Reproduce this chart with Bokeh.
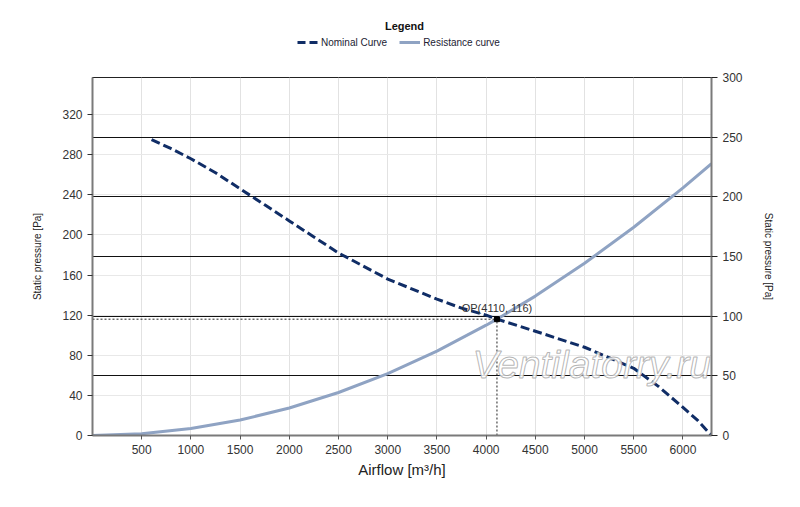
from bokeh.plotting import figure
from bokeh.layouts import column
from bokeh.models import Range1d, LinearAxis, FixedTicker, Grid, Label, Legend, LegendItem
from bokeh.embed import file_html
from bokeh.resources import INLINE

# ---- data ----
nominal_x = [600, 800, 1000, 1250, 1500, 1750, 2000, 2250, 2500, 2750, 3000, 3250,
             3500, 3750, 4000, 4110, 4500, 5000, 5500, 5750, 6000, 6150, 6290]
nominal_y = [295, 286, 276, 262, 246, 230, 214, 198, 182, 169, 156, 146,
             136, 127, 120, 116, 104, 88, 67, 49, 28, 15, 0]

resist_x = [0, 500, 1000, 1500, 2000, 2500, 3000, 3500, 4000, 4110, 4500, 5000, 5500, 6000, 6290]
resist_y = [0, 1.7, 6.9, 15.4, 27.4, 42.9, 61.8, 84.1, 110, 116, 139, 171.7, 207.7, 247, 271]

op_x = 4110
op_y = 116

x_ticks = [500, 1000, 1500, 2000, 2500, 3000, 3500, 4000, 4500, 5000, 5500, 6000]
left_ticks = [0, 40, 80, 120, 160, 200, 240, 280, 320]
right_ticks = [0, 50, 100, 150, 200, 250, 300]
right_lines = [50, 100, 150, 200, 250]

series_names = ["Nominal Curve", "Resistance curve"]

FONT = "Liberation Sans"
NAVY = "#102d66"
STEEL = "#8fa3c3"
W = 800
HEAD_H = 60
MAIN_H = 440
FRAME_L, FRAME_R = 92, 711

# ---------- header with legend (its frame is aligned with the chart frame) ----------
head = figure(width=W, height=HEAD_H, x_range=Range1d(FRAME_L, FRAME_R),
              y_range=Range1d(HEAD_H, 0),
              x_axis_type=None, y_axis_type=None, output_backend="svg", toolbar_location=None,
              min_border_left=FRAME_L, min_border_right=W - FRAME_R, min_border_top=0,
              min_border_bottom=0)
head.outline_line_color = None
head.xgrid.visible = False
head.ygrid.visible = False
# legend proxies kept outside the visible range
h_nom = head.line([-20, -10], [-20, -20], line_color=NAVY, line_width=3, line_dash="8 4")
h_res = head.line([-20, -10], [-20, -20], line_color=STEEL, line_width=3)
head.text(x=[404], y=[25], text=["Legend"], text_align="center", text_baseline="middle",
          text_font={"value": FONT}, text_font_size="11px", text_font_style="bold",
          text_color="#111111")
legend = Legend(items=[LegendItem(label=series_names[0], renderers=[h_nom]),
                       LegendItem(label=series_names[1], renderers=[h_res])],
                orientation="horizontal", location=(297 - FRAME_L, 11),
                label_text_font=FONT, label_text_font_size="10px", label_text_color="#222233",
                glyph_width=21, glyph_height=14, label_height=14, label_standoff=3, spacing=12,
                border_line_color=None, background_fill_alpha=0, padding=0, margin=0)
head.add_layout(legend)

# ---------- main chart ----------
p = figure(width=W, height=MAIN_H, x_range=Range1d(0, 6290), y_range=Range1d(0, 357),
           output_backend="svg", toolbar_location=None,
           min_border_left=FRAME_L, min_border_right=W - FRAME_R, min_border_top=77 - HEAD_H,
           min_border_bottom=MAIN_H - (435 - HEAD_H))
p.extra_y_ranges = {"right": Range1d(0, 300)}
p.outline_line_color = "#222222"
p.outline_line_width = 1

# grids
p.xgrid.ticker = FixedTicker(ticks=x_ticks)
p.xgrid.grid_line_color = "#e2e2e2"
p.ygrid.ticker = FixedTicker(ticks=left_ticks)
p.ygrid.grid_line_color = "#e8e8e8"
p.add_layout(Grid(dimension=1, ticker=FixedTicker(ticks=right_lines), y_range_name="right",
                  grid_line_color="#111111", grid_line_width=1))

# axes
def style_axis(ax, standoff, tick_out, tick_color):
    ax.axis_label_text_font = FONT
    ax.axis_label_text_font_style = "normal"
    ax.axis_label_text_color = "#222222"
    ax.axis_label_standoff = standoff
    ax.major_label_text_font = FONT
    ax.major_label_text_font_size = "12px"
    ax.major_label_text_color = "#333333"
    ax.axis_line_color = "#7a7a7a"
    ax.axis_line_width = 2
    ax.major_tick_in = 0
    ax.major_tick_out = tick_out
    ax.major_tick_line_color = tick_color
    ax.minor_tick_line_color = None

xa = p.xaxis[0]
xa.ticker = FixedTicker(ticks=x_ticks)
xa.axis_label = "Airflow [m³/h]"
style_axis(xa, 4, 4, "#555555")
xa.axis_label_text_font_size = "15px"

ya = p.yaxis[0]
ya.ticker = FixedTicker(ticks=left_ticks)
ya.axis_label = "Static pressure [Pa]"
style_axis(ya, 16, 5, "#333333")
ya.axis_label_text_font_size = "10px"

ra = LinearAxis(y_range_name="right", ticker=FixedTicker(ticks=right_ticks),
                axis_label="Static pressure [Pa]")
style_axis(ra, 17, 6, "#222222")
ra.axis_label_text_font_size = "10px"
p.add_layout(ra, "right")

# watermark
p.add_layout(Label(x=6285, y=71, text="Ventilatorry.ru", text_align="right",
                   text_baseline="alphabetic", text_font=FONT, text_font_size="39px",
                   text_font_style="italic", text_color="white", text_alpha=0.85,
                   text_outline_color="#a9a9a9"))

# curves
r_res = p.line(resist_x, resist_y, line_color=STEEL, line_width=3)
r_nom = p.line(nominal_x, nominal_y, line_color=NAVY, line_width=3, line_dash="9 4")

# operating point
p.line([0, op_x], [op_y, op_y], line_color="#222222", line_width=1, line_dash="2 2")
p.line([op_x, op_x], [0, op_y], line_color="#222222", line_width=1, line_dash="2 2")
p.scatter([op_x], [op_y], marker="square", size=5, fill_color="black", line_color="black")
p.add_layout(Label(x=op_x, y=op_y, text=f"OP({op_x}, {op_y})", text_align="center",
                   text_baseline="bottom", y_offset=5, text_font=FONT,
                   text_font_size="11px", text_color="#333333"))

open("out.html", "w").write(file_html(column(head, p), INLINE))
